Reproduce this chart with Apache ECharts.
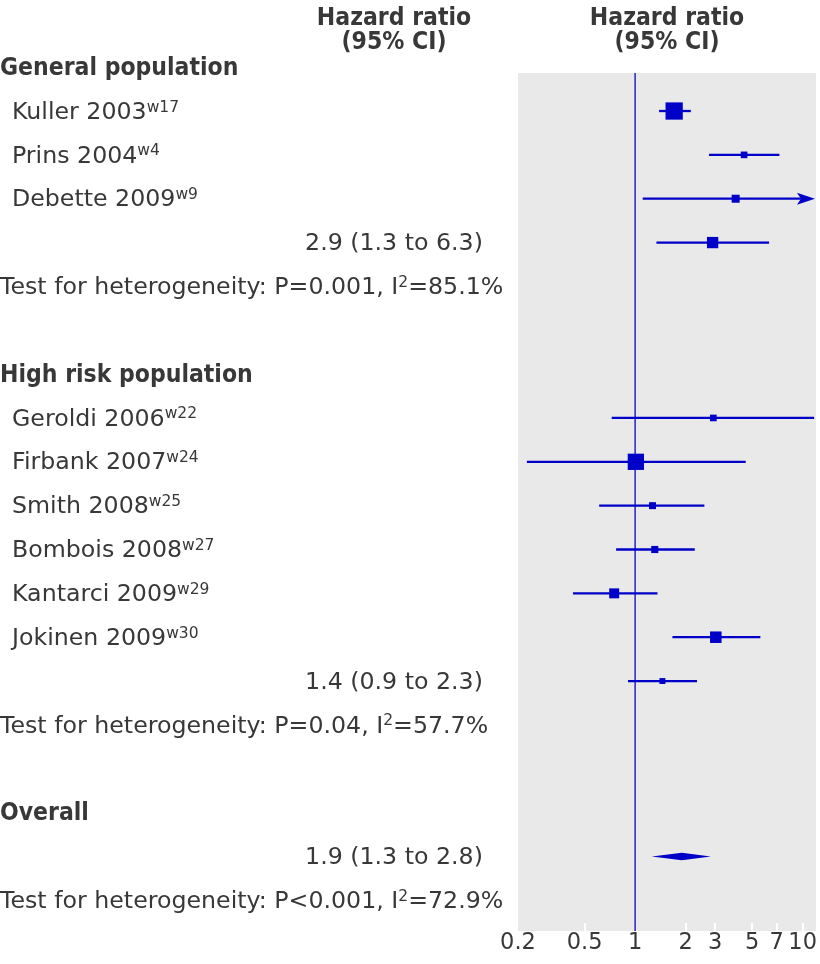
<!DOCTYPE html>
<html><head><meta charset="utf-8">
<script src="https://cdn.jsdelivr.net/npm/echarts@6/dist/echarts.min.js"></script>
<style>html,body{margin:0;padding:0;background:#fff}#c{width:820px;height:964px}</style>
</head><body><div id="c"></div>
<script>
// ---------------- data ----------------
const generalName = 'General population';
const generalStudies = ['Kuller 2003', 'Prins 2004', 'Debette 2009'];
const generalRefs = ['w17', 'w4', 'w9'];
const generalHR = [1.71, 4.47, 3.98];
const generalLower = [1.39, 2.76, 1.11];
const generalUpper = [2.15, 7.26, 14];
const generalWeight = [13.5, 2.0, 2.9];
const generalPooled = [2.9, 1.34, 6.3];
const generalPooledWeight = 5.8;
const generalPooledLabel = '2.9 (1.3 to 6.3)';
const generalHet = ['P=0.001', '85.1%'];

const highName = 'High risk population';
const highStudies = ['Geroldi 2006', 'Firbank 2007', 'Smith 2008', 'Bombois 2008', 'Kantarci 2009', 'Jokinen 2009'];
const highRefs = ['w22', 'w24', 'w25', 'w27', 'w29', 'w30'];
const highHR = [2.93, 1.01, 1.27, 1.31, 0.75, 3.03];
const highLower = [0.725, 0.226, 0.61, 0.77, 0.426, 1.67];
const highUpper = [11.7, 4.57, 2.59, 2.27, 1.36, 5.59];
const highWeight = [2.0, 12.0, 2.2, 2.3, 4.5, 6.0];
const highPooled = [1.455, 0.907, 2.34];
const highPooledWeight = 1.6;
const highPooledLabel = '1.4 (0.9 to 2.3)';
const highHet = ['P=0.04', '57.7%'];

const overallName = 'Overall';
const overallPooled = [1.9, 1.256, 2.83];
const overallLabel = '1.9 (1.3 to 2.8)';
const overallHet = ['P<0.001', '72.9%'];

const xTickValues = [0.2, 0.5, 1, 2, 3, 5, 7, 10];
const xTickMarks = [0.5, 2, 3, 5, 7, 10];
const columnTitle = ['Hazard ratio', '(95% CI)'];

// ---------------- layout / style ----------------
const X_MIN = 0.2, X_MAX = 12;
const Y_MIN = 0.133, Y_MAX = 19.7;
const BLUE = '#0000c8';
const TEXT = '#383838';
const FONT = "'DejaVu Sans', sans-serif";
const FS = 23.7;
const BOLD = "bold 24.5px 'DejaVu Sans Condensed', 'DejaVu Sans', sans-serif";
const TEXT_DY = 1.5;

// build rows
const textRows = [];
const markRows = [];
let r = 0;
function addGroup(name, studies, refs, hr, lo, hi, w, pooled, pw, plabel, het) {
  textRows.push({ row: r++, kind: 'header', text: name });
  studies.forEach((s, i) => {
    textRows.push({ row: r, kind: 'study', text: s, ref: refs[i] });
    markRows.push([r, hr[i], lo[i], hi[i], w[i], 0]);
    r++;
  });
  textRows.push({ row: r, kind: 'pooled', text: plabel });
  markRows.push([r, pooled[0], pooled[1], pooled[2], pw, 0]);
  r++;
  textRows.push({ row: r++, kind: 'het', het: het });
  r++; // blank row
}
addGroup(generalName, generalStudies, generalRefs, generalHR, generalLower, generalUpper, generalWeight,
  generalPooled, generalPooledWeight, generalPooledLabel, generalHet);
addGroup(highName, highStudies, highRefs, highHR, highLower, highUpper, highWeight,
  highPooled, highPooledWeight, highPooledLabel, highHet);
textRows.push({ row: r++, kind: 'header', text: overallName });
textRows.push({ row: r, kind: 'pooled', text: overallLabel });
markRows.push([r, overallPooled[0], overallPooled[1], overallPooled[2], 0, 1]);
r++;
textRows.push({ row: r++, kind: 'het', het: overallHet });

const richStyles = {
  n: { fontFamily: FONT, fontSize: FS, lineHeight: 26, fill: TEXT },
  s: { fontFamily: FONT, fontSize: 15.5, lineHeight: 12, fill: TEXT, verticalAlign: 'top' }
};

function renderText(params, api) {
  const t = textRows[params.dataIndex];
  const y = api.coord([1, api.value(0)])[1] + TEXT_DY;
  if (t.kind === 'header') {
    return { type: 'text', x: 0, y: y, style: { text: t.text, font: BOLD, fill: TEXT, align: 'left', verticalAlign: 'middle' } };
  }
  if (t.kind === 'study') {
    return { type: 'text', x: 12, y: y, style: { text: '{n|' + t.text + '}{s|' + t.ref + '}', rich: richStyles, align: 'left', verticalAlign: 'middle' } };
  }
  if (t.kind === 'pooled') {
    return { type: 'text', x: 394, y: y, style: { text: t.text, fontFamily: FONT, fontSize: FS, fill: TEXT, align: 'center', verticalAlign: 'middle' } };
  }
  return { type: 'text', x: 0, y: y, style: {
    text: '{n|Test for heterogeneity: ' + t.het[0] + ', I}{s|2}{n|=' + t.het[1] + '}',
    rich: richStyles, align: 'left', verticalAlign: 'middle' } };
}

function renderMark(params, api) {
  const row = api.value(0), hr = api.value(1), lo = api.value(2), hi = api.value(3), w = api.value(4), shape = api.value(5);
  const c = api.coord([hr, row]);
  const pl = api.coord([lo, row]);
  const clipped = hi > X_MAX;
  const ph = api.coord([clipped ? X_MAX : hi, row]);
  const children = [];
  if (shape === 1) {
    children.push({ type: 'polygon', shape: { points: [[pl[0], c[1]], [c[0], c[1] - 3.7], [ph[0], c[1]], [c[0], c[1] + 3.7]] }, style: { fill: BLUE } });
  } else {
    const tip = ph[0] - 1;
    const x2 = clipped ? tip - 14 : ph[0];
    children.push({ type: 'line', shape: { x1: pl[0], y1: c[1], x2: x2, y2: c[1] }, style: { stroke: BLUE, lineWidth: 2.3 } });
    if (clipped) {
      children.push({ type: 'polygon', shape: { points: [[tip, c[1]], [tip - 18, c[1] - 6], [tip - 14, c[1]], [tip - 18, c[1] + 6]] }, style: { fill: BLUE } });
    }
    const s = 4.7 * Math.sqrt(w);
    children.push({ type: 'rect', shape: { x: c[0] - s / 2, y: c[1] - s / 2, width: s, height: s }, style: { fill: BLUE } });
  }
  return { type: 'group', children: children };
}

const chart = echarts.init(document.getElementById('c'), null, { renderer: 'canvas' });
chart.setOption({
  animation: false,
  backgroundColor: '#ffffff',
  textStyle: { fontFamily: FONT },
  grid: { left: 518, right: 4, top: 73, bottom: 33, show: true, backgroundColor: '#e9e9e9', borderWidth: 0 },
  xAxis: {
    type: 'log', logBase: 10, min: X_MIN, max: X_MAX,
    axisLine: { show: false },
    splitLine: { show: false },
    axisTick: { show: true, inside: true, length: 8, lineStyle: { color: '#ffffff', width: 2 }, customValues: xTickMarks },
    axisLabel: { show: true, margin: 1, fontSize: 22.5, color: TEXT, fontFamily: FONT, customValues: xTickValues, hideOverlap: false,
      formatter: v => String(+Number(v).toPrecision(3)) }
  },
  yAxis: {
    type: 'value', inverse: true, min: Y_MIN, max: Y_MAX,
    axisLine: { show: false }, axisTick: { show: false }, axisLabel: { show: false }, splitLine: { show: false }
  },
  graphic: [
    { type: 'text', x: 394, y: 18.5, style: { text: columnTitle[0], font: BOLD, fill: TEXT, align: 'center', verticalAlign: 'middle' } },
    { type: 'text', x: 394, y: 43, style: { text: columnTitle[1], font: BOLD, fill: TEXT, align: 'center', verticalAlign: 'middle' } },
    { type: 'text', x: 667, y: 18.5, style: { text: columnTitle[0], font: BOLD, fill: TEXT, align: 'center', verticalAlign: 'middle' } },
    { type: 'text', x: 667, y: 43, style: { text: columnTitle[1], font: BOLD, fill: TEXT, align: 'center', verticalAlign: 'middle' } }
  ],
  series: [
    {
      type: 'line', silent: true, z: 1, symbol: 'none',
      data: [[1, Y_MIN], [1, Y_MAX]],
      lineStyle: { color: '#2424c0', width: 1.5 }
    },
    {
      type: 'custom', z: 3, silent: true,
      renderItem: renderMark,
      encode: { x: [1, 2, 3], y: 0 },
      data: markRows
    },
    {
      type: 'custom', z: 4, silent: true,
      renderItem: renderText,
      encode: { x: 1, y: 0 },
      data: textRows.map(t => [t.row, 1])
    }
  ]
});
</script>
</body></html>
